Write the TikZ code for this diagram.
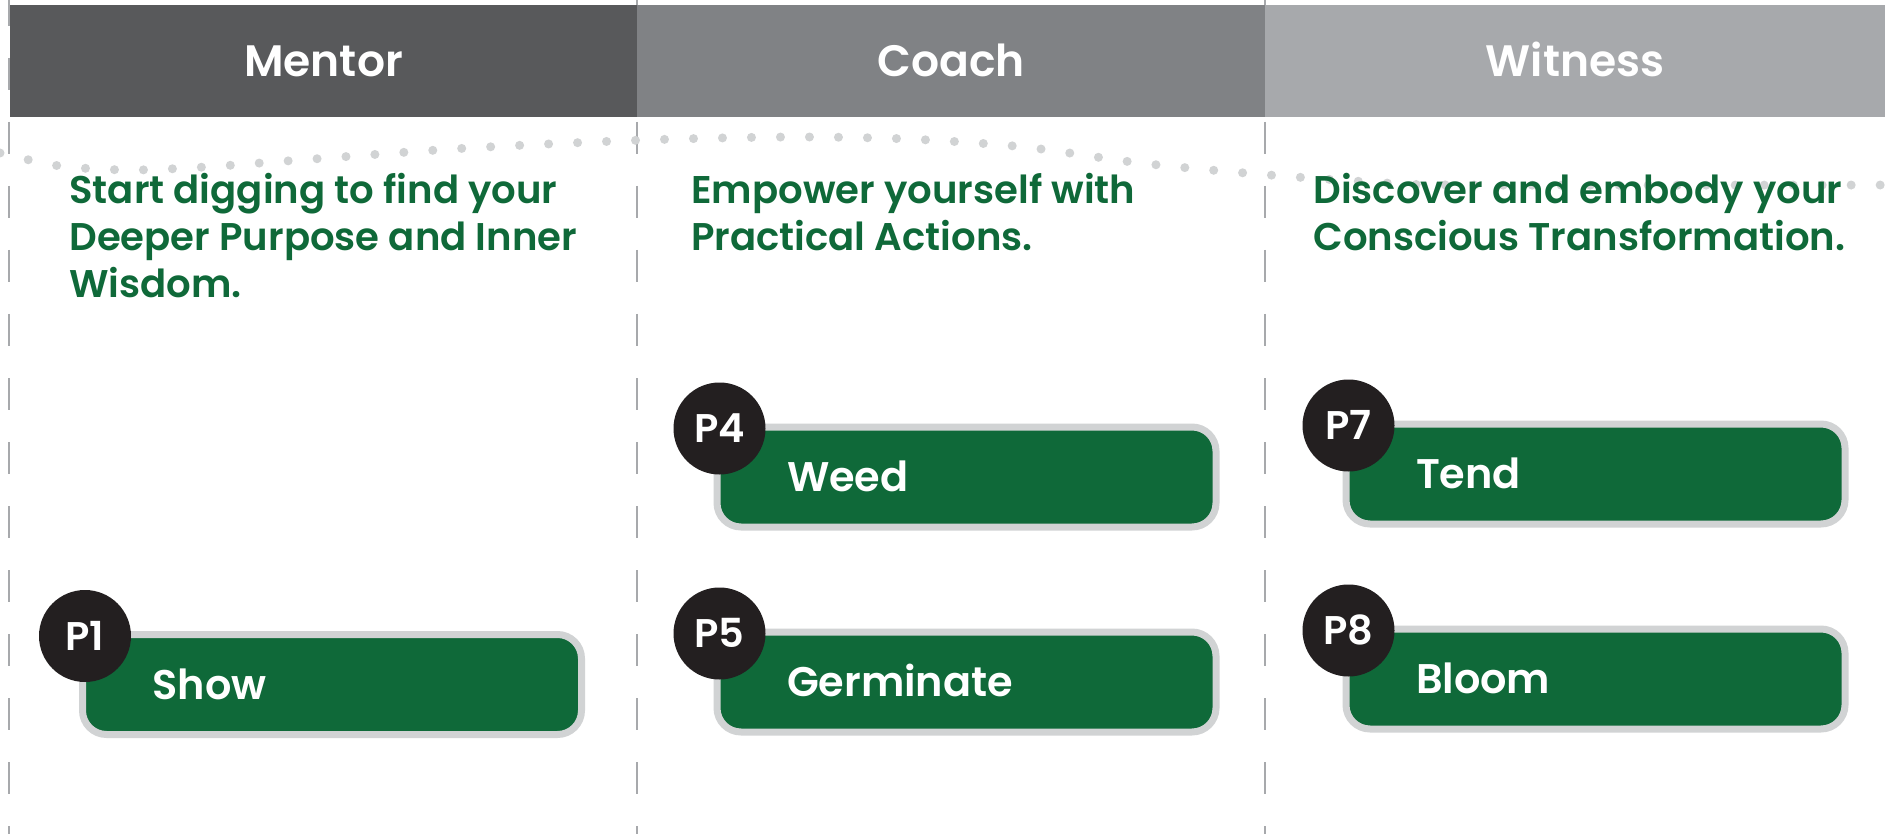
\documentclass[tikz,border=0pt]{standalone}
\usepackage{fontspec}
\setmainfont{Poppins SemiBold}
\usepackage{tikz}
\usetikzlibrary{ calc, positioning }
\definecolor{mentorgray}{HTML}{58595B}
\definecolor{coachgray}{HTML}{808285}
\definecolor{witnessgray}{HTML}{A7A9AC}
\definecolor{leafgreen}{HTML}{0F6939}
\definecolor{rimgray}{HTML}{D1D3D4}
\definecolor{lanegray}{HTML}{A7A9AC}
\definecolor{badgeblack}{HTML}{231F20}
\tikzset{
x=0.5pt, y=-0.5pt, % one unit is one pixel of the reference, y grows downwards
node distance=49pt, % gap between the two pills of a column
header/.style={inner sep=0pt, outer sep=0pt, minimum height=56pt, text=white, font=\fontsize{22}{26}\selectfont, text height=15.5pt, text depth=0pt},
blurb/.style={anchor=base west, align=left, inner sep=0pt, text=leafgreen, font=\fontsize{19.3}{23.5}\selectfont}, % anchored at the last line
pill/.style={rectangle, rounded corners=12pt, fill=leafgreen, draw=rimgray, line width=3.5pt, minimum height=50pt, text width=179.5pt, inner xsep=35pt, inner ysep=0pt, align=left, text=white, font=\fontsize{20.7}{24}\selectfont, text height=14.5pt, text depth=0pt},
badge/.style={circle, fill=badgeblack, minimum size=46pt, inner sep=0pt, text=white, font=\fontsize{20}{24}\selectfont, text height=14pt, text depth=0pt},
lane/.style={draw=lanegray, line width=1pt, dash pattern=on 16pt off 16pt, dash phase=3pt},
dotpath/.style={draw=rimgray, line width=4.5pt, line cap=round, dash pattern=on 0pt off 14.5pt},
}
\begin{document}
\begin{tikzpicture}
  \useasboundingbox[fill=white] (0,0) rectangle (1885,834);
  % column separators
  \draw[lane] (9,0) -- (9,834);
  \draw[lane] (637,0) -- (637,834);
  \draw[lane] (1265,0) -- (1265,834);

  \node[header, fill=mentorgray, minimum width=313.5pt] (hmentor) at (323.5,61) {Mentor};
  \node[header, fill=coachgray, minimum width=314pt, right=0pt of hmentor] (hcoach) {Coach};
  \node[header, fill=witnessgray, minimum width=310pt, right=0pt of hcoach] (hwitness) {Witness};

  \draw[dotpath] plot[smooth] coordinates {(0,153) (60,166) (130,170) (205,167) (300,160) (469,148) (645,140) (790,137) (908,139) (1024,147) (1140,163) (1257,174) (1371,182) (1460,185) (1885,185)};

  \node[blurb] (dmentor) at (69,298) {Start digging to find your\\Deeper Purpose and Inner\\Wisdom.};
  \node[blurb] (dcoach) at (691,251) {Empower yourself with\\Practical Actions.};
  \node[blurb] (dwitness) at (1313,251) {Discover and embody your\\Conscious Transformation.};

  \node[pill] (show) at (332,684.5) {Show};
  \node[pill] (weed) at (966.5,477) {Weed};
  \node[pill, below=of weed] (germinate) {Germinate};
  \node[pill] (tend) at (1595.5,474) {Tend};
  \node[pill, below=of tend] (bloom) {Bloom};

  \node[badge] (p1) at ([shift={(6,5)}]show.north west) {P1};
  \node[badge] (p4) at ([shift={(6,5)}]weed.north west) {P4};
  \node[badge] (p5) at ([shift={(6,5)}]germinate.north west) {P5};
  \node[badge] (p7) at ([shift={(6,5)}]tend.north west) {P7};
  \node[badge] (p8) at ([shift={(6,5)}]bloom.north west) {P8};
\end{tikzpicture}
\end{document}
